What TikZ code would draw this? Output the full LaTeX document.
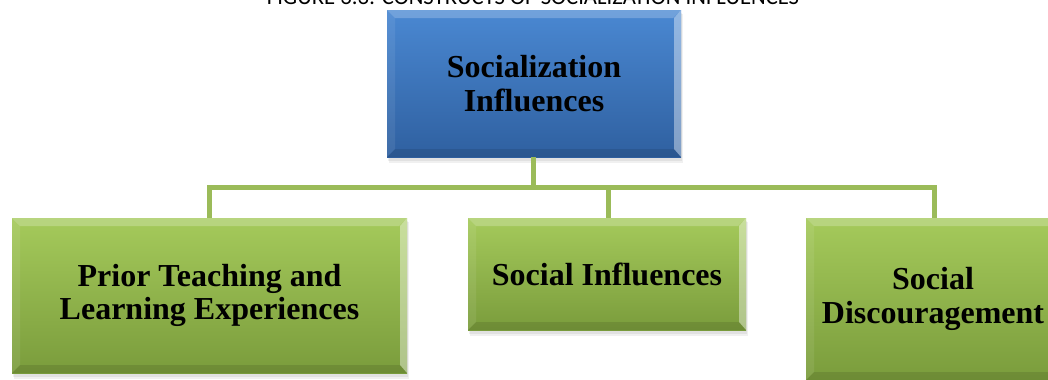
\documentclass[tikz,border=0pt]{standalone}
\usepackage{fontspec}
\setmainfont{Liberation Serif}
\newfontfamily\capfont{Carlito}
\definecolor{blueTop}{HTML}{4A88D2}
\definecolor{blueBot}{HTML}{2F60A0}
\definecolor{greenTop}{HTML}{A5CA5B}
\definecolor{greenBot}{HTML}{7A9C3C}
\definecolor{linkgreen}{HTML}{9BBB59}
\tikzset{
  bevelbox/.style={
    rectangle, inner sep=0pt, align=center,
    font=\fontsize{24}{25}\selectfont\bfseries,
    path picture={
      \coordinate (bnw) at (path picture bounding box.north west);
      \coordinate (bne) at (path picture bounding box.north east);
      \coordinate (bsw) at (path picture bounding box.south west);
      \coordinate (bse) at (path picture bounding box.south east);
      % light bevel along the top
      \fill[white,opacity=0.22] (bnw) -- (bne) -- ([shift={(-8,8)}]bne) -- ([shift={(8,8)}]bnw) -- cycle;
      % right bevel, brightest
      \fill[white,opacity=0.40] (bne) -- (bse) -- ([shift={(-7,-8)}]bse) -- ([shift={(-7,8)}]bne) -- cycle;
      % left bevel
      \fill[white,opacity=0.08] (bnw) -- (bsw) -- ([shift={(8,-8)}]bsw) -- ([shift={(8,8)}]bnw) -- cycle;
      % dark bevel along the bottom
      \fill[black,opacity=0.10] (bsw) -- (bse) -- ([shift={(-7,-8)}]bse) -- ([shift={(8,-8)}]bsw) -- cycle;
    }},
  bluebox/.style={bevelbox, top color=blueTop, bottom color=blueBot},
  greenbox/.style={bevelbox, top color=greenTop, bottom color=greenBot},
  link/.style={draw=linkgreen, line width=3.75pt},
  boxshadow/.style={fill=black, opacity=0.06}
}
\begin{document}
\begin{tikzpicture}[x=0.75pt,y=-0.75pt]
\useasboundingbox (0,0) rectangle (1048,379);
\fill[white] (0,0) rectangle (1048,379);

% caption above the chart, cut off by the page edge
\node[font=\capfont\fontsize{17}{18}\selectfont, anchor=base] (cap) at (533,4)
  {FIGURE 3.3: CONSTRUCTS OF SOCIALIZATION INFLUENCES};

% soft shadows below the boxes
\foreach \a/\b/\c/\d in {387/10/681/157, 12/218/407/373, 468/218/746/330, 806/218/1060/380}{
  \fill[boxshadow] (\a+1,\b+3) rectangle (\c+1,\d+4);
  \fill[boxshadow] (\a+2,\b+4) rectangle (\c+2,\d+6);
}

% junction points of the connector tree
\coordinate (hub) at (533,187);
\coordinate (hl) at (209,187);
\coordinate (hm) at (608,187);
\coordinate (hr) at (934,187);

\node[bluebox, minimum width=294*0.75pt, minimum height=147*0.75pt] (top) at (534,83.5)
  {Socialization\\Influences};
\node[greenbox, minimum width=395*0.75pt, minimum height=155*0.75pt] (left) at (209.5,295.5)
  {Prior Teaching and\\Learning Experiences};
\node[greenbox, minimum width=278*0.75pt, minimum height=112*0.75pt] (mid) at (607,274)
  {Social Influences};
\node[greenbox, minimum width=254*0.75pt, minimum height=162*0.75pt] (right) at (933,299)
  {Social\\Discouragement};

\draw[link] (top.south -| hub) -- (hub);
\draw[link, line cap=rect] (hl) -- (hr);
\draw[link] (hl) -- (hl |- left.north);
\draw[link] (hm) -- (hm |- mid.north);
\draw[link] (hr) -- (hr |- right.north);
\end{tikzpicture}
\end{document}
